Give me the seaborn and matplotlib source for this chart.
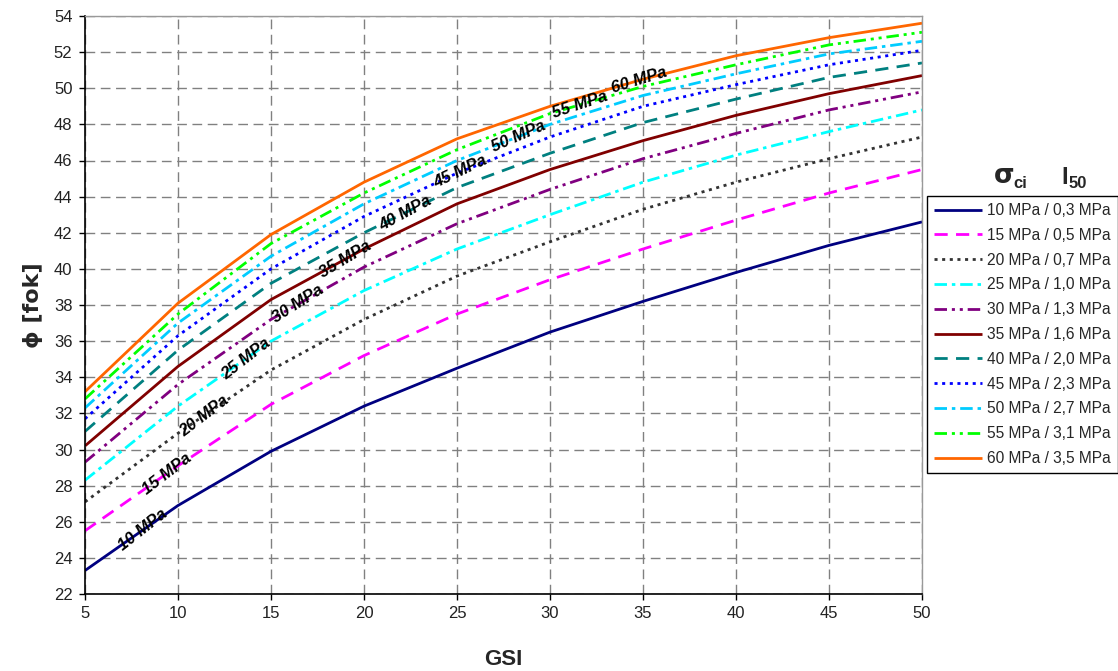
import numpy as np
import pandas as pd
import matplotlib
matplotlib.use("Agg")
import matplotlib.pyplot as plt
import seaborn as sns

# GSI values on the horizontal axis
gsi = [5, 10, 15, 20, 25, 30, 35, 40, 45, 50]

# friction angle (degrees) for each intact strength / point load index pair
phi_10 = [23.3, 26.9, 29.9, 32.4, 34.5, 36.5, 38.2, 39.8, 41.3, 42.6]
phi_15 = [25.5, 29.1, 32.5, 35.2, 37.5, 39.4, 41.1, 42.7, 44.2, 45.5]
phi_20 = [27.1, 30.9, 34.4, 37.2, 39.6, 41.5, 43.3, 44.8, 46.1, 47.3]
phi_25 = [28.3, 32.4, 36.0, 38.8, 41.1, 43.0, 44.8, 46.3, 47.6, 48.8]
phi_30 = [29.3, 33.6, 37.2, 40.1, 42.5, 44.4, 46.1, 47.5, 48.8, 49.8]
phi_35 = [30.2, 34.6, 38.3, 41.1, 43.6, 45.5, 47.1, 48.5, 49.7, 50.7]
phi_40 = [31.0, 35.5, 39.2, 42.0, 44.5, 46.4, 48.1, 49.4, 50.6, 51.4]
phi_45 = [31.7, 36.3, 40.0, 42.9, 45.3, 47.3, 49.0, 50.2, 51.3, 52.1]
phi_50 = [32.3, 37.0, 40.7, 43.6, 46.0, 48.0, 49.6, 50.8, 51.9, 52.6]
phi_55 = [32.8, 37.5, 41.4, 44.2, 46.6, 48.6, 50.1, 51.3, 52.4, 53.1]
phi_60 = [33.2, 38.1, 41.9, 44.8, 47.2, 49.0, 50.5, 51.8, 52.8, 53.6]

sigma_ci = [10, 15, 20, 25, 30, 35, 40, 45, 50, 55, 60]
i50 = ["0,3", "0,5", "0,7", "1,0", "1,3", "1,6", "2,0", "2,3", "2,7", "3,1", "3,5"]
series = [phi_10, phi_15, phi_20, phi_25, phi_30, phi_35,
          phi_40, phi_45, phi_50, phi_55, phi_60]

# GSI where each in-line curve label sits
label_gsi = [8.1, 9.4, 11.4, 13.65, 16.45, 19.0, 22.2, 25.2, 28.3, 31.6, 34.8]

colors = ["#000080", "#FF00FF", "#333333", "#00FFFF", "#800080", "#800000",
          "#008080", "#0000FF", "#00CCFF", "#00FF00", "#FF6600"]
long_dash = (9.5, 6.0)
dots = (2.2, 3.3)
dash_dot = (9.0, 3.5, 2.5, 3.5)
dash_dot_dot = (9.0, 3.5, 2.2, 3.5, 2.2, 3.5)
dash_styles = [None, long_dash, dots, dash_dot, dash_dot_dot, None,
               long_dash, dots, dash_dot, dash_dot_dot, None]

sns.set_theme(style="white")
plt.rcParams["font.family"] = ["Liberation Sans", "DejaVu Sans"]
plt.rcParams["lines.scale_dashes"] = False

fig = plt.figure(figsize=(11.18, 6.71), dpi=100)
ax = fig.add_axes([85 / 1118, 1 - 594 / 671, (922 - 85) / 1118, (594 - 16) / 671])

for s, lab_i50, vals, col, dsh in zip(sigma_ci, i50, series, colors, dash_styles):
    df = pd.DataFrame({"GSI": gsi, "phi": vals})
    sns.lineplot(data=df, x="GSI", y="phi", ax=ax, color=col, lw=2,
                 label=f"{s} MPa / {lab_i50} MPa")
    line = ax.lines[-1]
    line.set_solid_capstyle("butt")
    line.set_dash_capstyle("butt")
    if dsh is not None:
        line.set_dashes(dsh)

# labels written along the curves
for s, vals, gx in zip(sigma_ci, series, label_gsi):
    gy = np.interp(gx, gsi, vals)
    slope = (np.interp(gx + 1.5, gsi, vals) - np.interp(gx - 1.5, gsi, vals)) / 3.0
    ang = np.degrees(np.arctan(slope * 1.12))
    ax.text(gx, gy, f"{s} MPa", rotation=ang, rotation_mode="anchor",
            transform_rotates_text=True, ha="center", va="center",
            fontsize=12, fontweight="bold", fontstyle="italic", color="black",
            zorder=5)

ax.set_xlim(5, 50)
ax.set_ylim(22, 54)
ax.set_xticks(np.arange(5, 51, 5))
ax.set_yticks(np.arange(22, 55, 2))
ax.grid(True, color="#808080", linestyle=(0, (7, 4)), linewidth=1)
ax.tick_params(axis="both", which="major", direction="out", length=4, width=1,
               color="black", labelsize=12, labelcolor="#222222",
               bottom=True, left=True, pad=5)
for side in ["left", "bottom"]:
    ax.spines[side].set_color("black")
    ax.spines[side].set_linewidth(1.2)
for side in ["top", "right"]:
    ax.spines[side].set_color("#999999")
    ax.spines[side].set_linewidth(1.0)

ax.set_xlabel("GSI", fontsize=16, fontweight="bold", labelpad=20)
ax.set_ylabel("ϕ [fok]", fontsize=16, fontweight="bold", labelpad=8,
              family=["DejaVu Sans"])

leg = ax.legend(loc="upper left", bbox_to_anchor=(927 / 1118, 1 - 196 / 671),
                bbox_transform=fig.transFigure, fontsize=11.2, frameon=True,
                fancybox=False, edgecolor="black", framealpha=1,
                handlelength=3.1, handletextpad=0.3, labelspacing=0.63,
                borderpad=0.45, borderaxespad=0)
leg.get_frame().set_linewidth(1.0)

# legend heading: sigma_ci and I_50
fig.text(994 / 1118, 1 - 183 / 671, "σ", fontsize=19, fontweight="bold",
         ha="left", va="baseline", family=["DejaVu Sans"])
fig.text(1013 / 1118, 1 - 188 / 671, "ci", fontsize=12, fontweight="bold",
         ha="left", va="baseline")
fig.text(1061 / 1118, 1 - 184 / 671, "I", fontsize=17, fontweight="bold",
         ha="left", va="baseline")
fig.text(1069 / 1118, 1 - 188 / 671, "50", fontsize=12, fontweight="bold",
         ha="left", va="baseline")

fig.savefig("out.png", dpi=100)
